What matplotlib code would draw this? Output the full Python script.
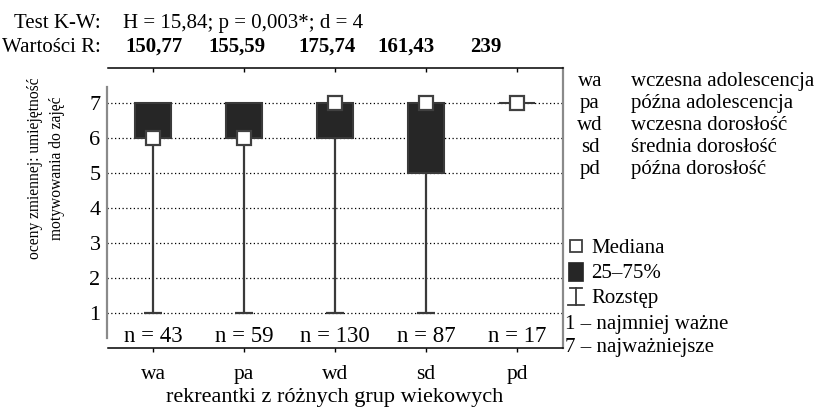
import numpy as np
import matplotlib
matplotlib.use("Agg")
import matplotlib.pyplot as plt
import matplotlib.lines as mlines
from matplotlib.patches import Rectangle

plt.rcParams["font.family"] = ["Liberation Serif", "DejaVu Serif"]

# dane
grupy = ["wa", "pa", "wd", "sd", "pd"]
nazwy = ["wczesna adolescencja", "późna adolescencja", "wczesna dorosłość",
         "średnia dorosłość", "późna dorosłość"]
n_obs = [43, 59, 130, 87, 17]
mediana = [6, 6, 7, 7, 7]
q25 = [6, 6, 6, 5, 7]
q75 = [7, 7, 7, 7, 7]
minimum = [1, 1, 1, 1, 7]
maksimum = [7, 7, 7, 7, 7]
wartosci_R = ["150,77", "155,59", "175,74", "161,43", "239"]
R_x = [125, 208, 298, 377, 470]   # px, lewa krawedz
test_kw = "H = 15,84; p = 0,003*; d = 4"

W, H = 815, 413
FS = 15
DARK = "#262626"
GRAY = "#8a8a8a"

def fx(px): return px / W
def fy(py): return 1 - py / H

fig = plt.figure(figsize=(W / 100, H / 100), dpi=100)
ax = fig.add_axes([fx(107.5), fy(348), fx(562.5) - fx(107.5), fy(68) - fy(348)])

x = np.arange(len(grupy))
ax.set_xlim(-0.5, 4.5); ax.set_ylim(0, 8)
for v in range(1, 8):
    ax.axhline(v, color="black", lw=0.9, ls=(0, (1, 2)), zorder=1)

# wasy (rozstep)
for xi, lo, hi, a, b in zip(x, minimum, maksimum, q25, q75):
    if lo < a:
        ax.vlines(xi, lo, a, color="#3a3a3a", lw=1.6, zorder=2)
        ax.hlines(lo, xi - 0.1, xi + 0.1, color="#3a3a3a", lw=1.6, zorder=2)
    if hi > b:
        ax.vlines(xi, b, hi, color="#3a3a3a", lw=1.6, zorder=2)
        ax.hlines(hi, xi - 0.1, xi + 0.1, color="#3a3a3a", lw=1.6, zorder=2)
# pudelka 25-75%
ax.bar(x, np.array(q75) - np.array(q25), bottom=q25, width=0.4, color=DARK,
       edgecolor="#3a3a3a", lw=1.5, zorder=3)
# mediany
ax.plot(x, mediana, ls="none", marker="s", ms=9.5, mfc="white", mec="#404040",
        mew=1.6, zorder=4)
for xi, n in zip(x, n_obs):
    ax.text(xi, 0.17, f"n = {n}", ha="center", va="baseline", fontsize=FS + 1.5)

ax.set_yticks(range(1, 8))
ax.set_xticks(x, grupy)
ax.tick_params(axis="y", length=0, pad=5, labelsize=FS + 1)
ax.tick_params(axis="x", length=3, width=1, pad=9, labelsize=FS + 0.5, top=True,
               direction="out")
for t in ax.xaxis.get_major_ticks():
    t.tick2line.set_marker(mlines.TICKDOWN)
ax.set_xlabel("rekreantki z różnych grup wiekowych", fontsize=FS + 1, labelpad=3)
for s in ["top", "bottom"]:
    ax.spines[s].set_linewidth(1.1)
for s in ["left", "right"]:
    ax.spines[s].set_color(GRAY); ax.spines[s].set_linewidth(1.6)
ax.spines["left"].set_bounds(0.3, 7.45)

fig.text(fx(46), fy(168), "oceny zmiennej: umiejętność\nmotywowania do zajęć",
         rotation=90, ha="center", va="center", multialignment="center",
         fontsize=11.2, linespacing=1.45)

# naglowek
fig.text(fx(101), fy(28), "Test K-W:", ha="right", va="baseline", fontsize=FS)
fig.text(fx(123), fy(28), test_kw, ha="left", va="baseline", fontsize=FS)
fig.text(fx(101), fy(52), "Wartości R:", ha="right", va="baseline", fontsize=FS)
for px, r in zip(R_x, wartosci_R):
    fig.text(fx(px), fy(52), r, ha="left", va="baseline", fontsize=FS, weight="bold")

# legenda grup
for i, (g, nm) in enumerate(zip(grupy, nazwy)):
    yb = 86 + 22 * i
    fig.text(fx(590), fy(yb), g, ha="center", va="baseline", fontsize=FS)
    fig.text(fx(631), fy(yb), nm, ha="left", va="baseline", fontsize=FS)

# legenda symboli
fig.add_artist(Rectangle((fx(570), fy(252)), fx(12), 12 / H, fc="white",
                         ec="#404040", lw=1.3, transform=fig.transFigure))
fig.add_artist(Rectangle((fx(568), fy(281)), fx(15), 19 / H, fc=DARK,
                         ec=DARK, lw=0.5, transform=fig.transFigure))
for xs, ys in [([576, 576], [288, 305]), ([570, 582], [288, 288]), ([568, 584], [305, 305])]:
    fig.add_artist(mlines.Line2D([fx(v) for v in xs], [fy(v) for v in ys],
                                 color="#3a3a3a", lw=1.3, transform=fig.transFigure))
fig.text(fx(591), fy(253), "Mediana", ha="left", va="baseline", fontsize=FS)
fig.text(fx(591), fy(278), "25–75%", ha="left", va="baseline", fontsize=FS)
fig.text(fx(591), fy(303), "Rozstęp", ha="left", va="baseline", fontsize=FS)
fig.text(fx(565), fy(329), "1 – najmniej ważne", ha="left", va="baseline", fontsize=FS)
fig.text(fx(565), fy(352), "7 – najważniejsze", ha="left", va="baseline", fontsize=FS)

fig.savefig("out.png", dpi=100)
